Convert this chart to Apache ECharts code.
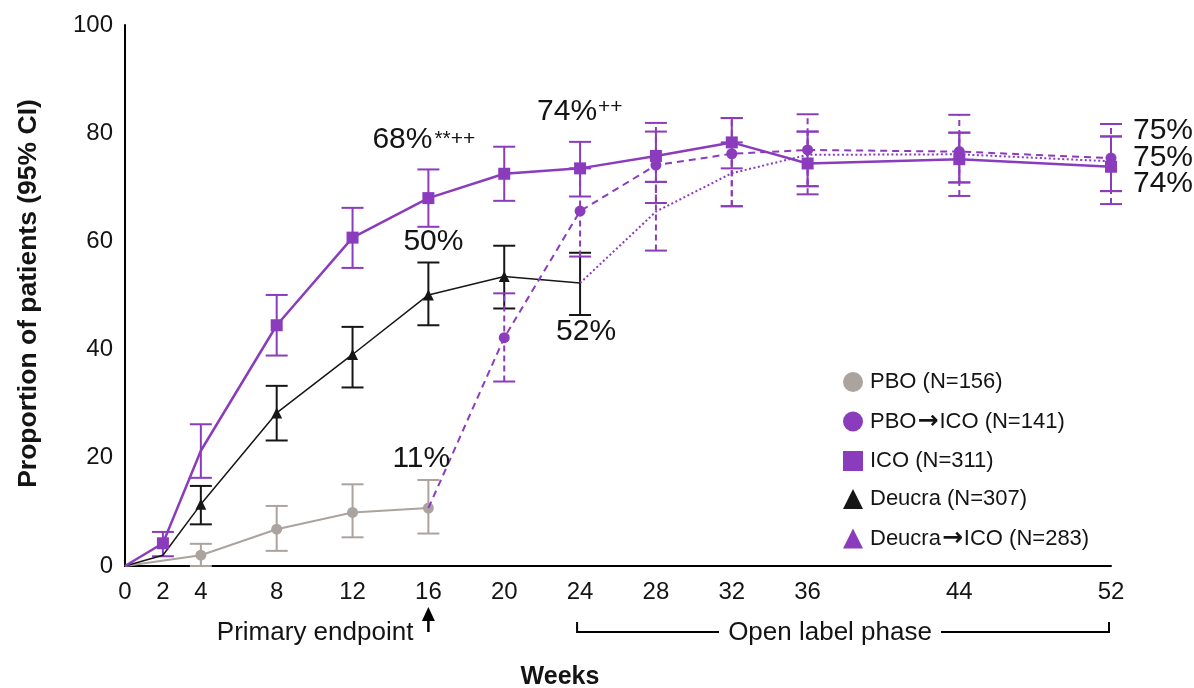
<!DOCTYPE html>
<html><head><meta charset="utf-8">
<script src="https://cdn.jsdelivr.net/npm/echarts@6/dist/echarts.min.js"></script>
<style>html,body{margin:0;padding:0;background:#fff}#c{width:1194px;height:688px}</style>
</head><body><div id="c"></div>
<script>
// ---------- data ----------
const xTickLabels = [0, 2, 4, 8, 12, 16, 20, 24, 28, 32, 36, 44, 52];
const yTickLabels = [0, 20, 40, 60, 80, 100];

const pboWeeks  = [0, 4, 8, 12, 16];
const pboValues = [0, 2.0, 6.8, 9.9, 10.7];
const pboLow    = [null, 0, 2.8, 5.3, 6.0];
const pboHigh   = [null, 4.1, 11.1, 15.1, 15.9];

const icoWeeks  = [0, 2, 4, 8, 12, 16, 20, 24, 28, 32, 36, 44, 52];
const icoValues = [0, 4.2, 21.3, 44.5, 60.7, 68.0, 72.5, 73.5, 75.8, 78.3, 74.4, 75.2, 73.8];
const icoLow    = [null, 1.8, 16.3, 38.9, 55.1, 62.7, 67.5, 68.3, 71.0, 73.5, 70.2, 70.9, 69.3];
const icoHigh   = [null, 6.3, 26.2, 50.1, 66.2, 73.3, 77.5, 78.4, 80.3, 82.8, 80.3, 80.1, 79.4];

const deuWeeks  = [0, 2, 4, 8, 12, 16, 20, 24];
const deuValues = [0, 2.0, 11.4, 28.3, 39.1, 50.1, 53.5, 52.3];
const deuLow    = [null, null, 7.7, 23.2, 33.0, 44.5, 47.6, 46.4];
const deuHigh   = [null, null, 14.8, 33.3, 44.2, 56.1, 59.2, 57.9];

const pboIcoWeeks  = [16, 20, 24, 28, 32, 36, 44, 52];
const pboIcoValues = [10.7, 42.2, 65.6, 74.1, 76.2, 76.9, 76.6, 75.4];
const pboIcoLow    = [null, 34.1, 57.2, 67.1, 66.5, 68.7, 68.4, 66.9];
const pboIcoHigh   = [null, 50.4, 73.5, 81.9, 82.8, 83.5, 83.4, 81.7];

const deuIcoWeeks  = [24, 28, 32, 36, 44, 52];
const deuIcoValues = [52.3, 65.5, 72.6, 76.0, 76.1, 74.8];
const deuIcoLow    = [null, 58.3, 66.5, 70.2, 70.9, 69.3];
const deuIcoHigh   = [null, 71.0, 78.3, 80.3, 80.1, 79.4];

const seriesNames = ['PBO (N=156)', 'PBO\u2192ICO (N=141)', 'ICO (N=311)', 'Deucra (N=307)', 'Deucra\u2192ICO (N=283)'];

// ---------- style ----------
const FONT = '"Liberation Sans", Arial, Helvetica, sans-serif';
const PURPLE = '#8b3cbd';
const GRAY = '#aba39e';
const BLACK = '#161616';
const TXT = '#141414';

function pairs(w, v) { return w.map((x, i) => [x, v[i]]); }

function lineSeries(name, weeks, values, o) {
  return {
    type: 'line', name, data: pairs(weeks, values), z: o.z,
    symbol: o.symbol,
    symbolSize: (val) => (o.hide.indexOf(val[0]) >= 0 ? 0 : o.size),
    showSymbol: true,
    lineStyle: { color: o.color, width: o.width, type: o.dash || 'solid' },
    itemStyle: { color: o.color },
    emphasis: { disabled: true },
    silent: true
  };
}

function errSeries(weeks, low, high, color, dash, z) {
  const data = [];
  weeks.forEach((w, i) => { if (low[i] != null) data.push([w, low[i], high[i]]); });
  return {
    type: 'custom', data, z, silent: true,
    encode: { x: 0, y: [1, 2] },
    renderItem(params, api) {
      const x = api.value(0);
      const p1 = api.coord([x, api.value(1)]);
      const p2 = api.coord([x, api.value(2)]);
      const hw = 11;
      const cap = { stroke: color, lineWidth: 2 };
      return {
        type: 'group', children: [
          { type: 'line', shape: { x1: p1[0], y1: p1[1], x2: p2[0], y2: p2[1] }, style: { stroke: color, lineWidth: 2, lineDash: dash || null } },
          { type: 'line', shape: { x1: p1[0] - hw, y1: p1[1], x2: p1[0] + hw, y2: p1[1] }, style: cap },
          { type: 'line', shape: { x1: p2[0] - hw, y1: p2[1], x2: p2[0] + hw, y2: p2[1] }, style: cap }
        ]
      };
    }
  };
}

const chart = echarts.init(document.getElementById('c'), null, { renderer: 'canvas' });

const option = {
  animation: false,
  backgroundColor: '#fff',
  grid: { left: 125, right: 83, top: 25, bottom: 122, containLabel: false },
  xAxis: {
    type: 'value', min: 0, max: 52, interval: 2,
    axisLine: { show: true, lineStyle: { color: '#000', width: 2 } },
    axisTick: { show: false },
    splitLine: { show: false },
    axisLabel: {
      margin: 14, fontSize: 24, fontFamily: FONT, color: TXT,
      formatter: (v) => (xTickLabels.indexOf(v) >= 0 ? String(v) : '')
    }
  },
  yAxis: {
    type: 'value', min: 0, max: 100, interval: 20,
    axisLine: { show: true, lineStyle: { color: '#000', width: 2 } },
    axisTick: { show: false },
    splitLine: { show: false },
    axisLabel: {
      margin: 12, fontSize: 24, fontFamily: FONT, color: TXT,
      formatter: (v) => (yTickLabels.indexOf(v) >= 0 ? String(v) : '')
    }
  },
  legend: {
    orient: 'vertical', left: 843, top: 371, padding: 0,
    itemWidth: 20, itemHeight: 20, itemGap: 16,
    textStyle: {
      fontSize: 22, lineHeight: 22, fontFamily: FONT, color: TXT, padding: [0, 0, 0, 2],
      rich: { a: { fontSize: 25, lineHeight: 22, fontFamily: '"DejaVu Sans", sans-serif', fontWeight: 'bold', color: TXT, padding: [0, 1, 0, 1] } }
    },
    formatter: (name) => name.replace('\u2192', '{a|\u2192}'),
    selectedMode: false,
    data: [
      { name: seriesNames[0], icon: 'circle' },
      { name: seriesNames[1], icon: 'circle' },
      { name: seriesNames[2], icon: 'rect' },
      { name: seriesNames[3], icon: 'triangle' },
      { name: seriesNames[4], icon: 'triangle' }
    ]
  },
  series: [
    errSeries(pboWeeks, pboLow, pboHigh, GRAY, null, 2),
    errSeries(deuWeeks, deuLow, deuHigh, BLACK, null, 2),
    errSeries(deuIcoWeeks, deuIcoLow, deuIcoHigh, PURPLE, [6, 4], 2),
    errSeries(pboIcoWeeks, pboIcoLow, pboIcoHigh, PURPLE, [6, 4], 2),
    errSeries(icoWeeks, icoLow, icoHigh, PURPLE, null, 2),
    lineSeries(seriesNames[0], pboWeeks, pboValues, { color: GRAY, width: 2, symbol: 'circle', size: 11, hide: [0], z: 3 }),
    lineSeries(seriesNames[3], deuWeeks, deuValues, { color: BLACK, width: 1.5, symbol: 'triangle', size: 11, hide: [0, 2, 24], z: 3 }),
    lineSeries(seriesNames[4], deuIcoWeeks, deuIcoValues, { color: PURPLE, width: 2, dash: [2, 2.5], symbol: 'triangle', size: 10, hide: [24, 28, 32, 36, 44, 52], z: 4 }),
    lineSeries(seriesNames[1], pboIcoWeeks, pboIcoValues, { color: PURPLE, width: 2, dash: [7, 5], symbol: 'circle', size: 11, hide: [16], z: 4 }),
    lineSeries(seriesNames[2], icoWeeks, icoValues, { color: PURPLE, width: 2.5, symbol: 'rect', size: 12, hide: [0, 4], z: 5 })
  ]
};
chart.setOption(option);

// ---------- annotations ----------
function px(x, y) { return chart.convertToPixel({ gridIndex: 0 }, [x, y]); }
function txt(text, x, y, size, opts) {
  opts = opts || {};
  return {
    type: 'text', x, y, rotation: opts.rotation || 0, z: 10, silent: true,
    style: {
      text, x: 0, y: 0, fill: TXT,
      font: (opts.weight || 'normal') + ' ' + size + 'px ' + FONT,
      align: opts.align || 'left', verticalAlign: 'middle',
      textAlign: opts.align || 'left', textVerticalAlign: 'middle'
    }
  };
}
const g = [];
const a68 = px(16, icoValues[5]);
g.push(txt('68%', a68[0] - 56, a68[1] - 58, 30));
g.push(txt('**++', a68[0] + 6, a68[1] - 59, 21));
const a74 = px(24, icoValues[7]);
g.push(txt('74%', a74[0] - 43, a74[1] - 57, 30));
g.push(txt('++', a74[0] + 18, a74[1] - 61, 21));
const a50 = px(16, deuValues[5]);
g.push(txt('50%', a50[0] - 25, a50[1] - 53, 30));
const a52 = px(24, deuValues[7]);
g.push(txt('52%', a52[0] - 24, a52[1] + 49, 30));
const a11 = px(16, pboValues[4]);
g.push(txt('11%', a11[0] - 36, a11[1] - 49, 30));
const r1 = px(52, 75.4);
g.push(txt('75%', r1[0] + 22, r1[1] - 27, 30));
g.push(txt('75%', r1[0] + 22, r1[1] - 0.5, 30));
g.push(txt('74%', r1[0] + 22, r1[1] + 26, 30));

// axis names
const yc = px(0, 50);
g.push(txt('Proportion of patients (95% CI)', 29, yc[1] - 2, 26.5, { rotation: Math.PI / 2, align: 'center', weight: 'bold' }));
g.push(txt('Weeks', 560, 677, 25, { align: 'center', weight: 'bold' }));

// primary endpoint
const p16 = px(16, 0);
g.push(txt('Primary endpoint', p16[0] - 15, 633, 26, { align: 'right' }));
g.push({ type: 'line', silent: true, shape: { x1: p16[0], y1: 619, x2: p16[0], y2: 632 }, style: { stroke: '#000', lineWidth: 2.5 } });
g.push({ type: 'polygon', silent: true, shape: { points: [[p16[0], 607], [p16[0] - 6.5, 621], [p16[0] + 6.5, 621]] }, style: { fill: '#000' } });

// open label bracket
const p24 = px(24, 0), p52 = px(52, 0);
const bl = p24[0] - 3, br = p52[0] - 2, by = 632, bt = 622;
const mid = (bl + br) / 2 - 13;
g.push({ type: 'polyline', silent: true, shape: { points: [[bl, bt], [bl, by], [mid - 111, by]] }, style: { stroke: '#000', lineWidth: 2, fill: null } });
g.push({ type: 'polyline', silent: true, shape: { points: [[mid + 111, by], [br, by], [br, bt]] }, style: { stroke: '#000', lineWidth: 2, fill: null } });
g.push(txt('Open label phase', mid, 633, 26, { align: 'center' }));

chart.setOption({ graphic: g });
</script>
</body></html>
